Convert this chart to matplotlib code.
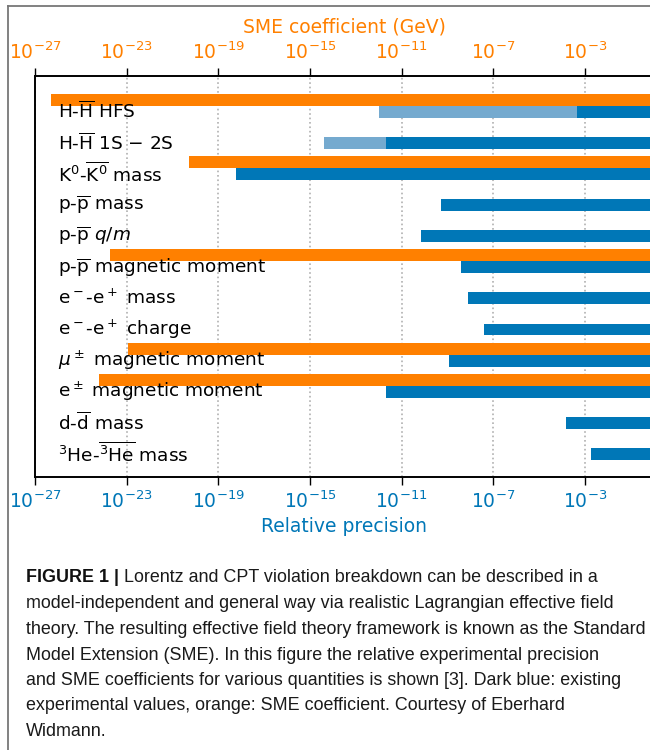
import matplotlib
matplotlib.use("Agg")
import matplotlib.pyplot as plt
import numpy as np
from matplotlib.lines import Line2D
from matplotlib.ticker import FixedLocator, NullLocator, LogFormatterSciNotation

# ---------------- data ----------------
labels = [
    r"H-$\overline{\mathrm{H}}$ HFS",
    r"H-$\overline{\mathrm{H}}$ 1S $-$ 2S",
    r"$\mathrm{K}^0$-$\overline{\mathrm{K}^0}$ mass",
    r"p-$\overline{\mathrm{p}}$ mass",
    r"p-$\overline{\mathrm{p}}$ $q/m$",
    r"p-$\overline{\mathrm{p}}$ magnetic moment",
    r"$\mathrm{e}^-$-$\mathrm{e}^+$ mass",
    r"$\mathrm{e}^-$-$\mathrm{e}^+$ charge",
    r"$\mu^\pm$ magnetic moment",
    r"$\mathrm{e}^\pm$ magnetic moment",
    r"d-$\overline{\mathrm{d}}$ mass",
    r"$^3$He-$\overline{^3\mathrm{He}}$ mass",
]
# existing relative precision (dark blue)
existing = [4.5e-4, 2.0e-12, 5.9e-19, 5.1e-10, 6.9e-11, 3.9e-9,
            7.8e-9, 3.9e-8, 1.1e-9, 2.0e-12, 1.5e-4, 1.8e-3]
# projected precision (light blue), None where absent
projected = [1.0e-12, 4.2e-15, None, None, None, None,
             None, None, None, None, None, None]
# SME coefficient in GeV (orange), None where absent
sme = [4.8e-27, None, 5.2e-21, None, None, 1.9e-24,
       None, None, 1.1e-23, 6.2e-25, None, None]
upper = 1.0
tick_values = [1e-27, 1e-23, 1e-19, 1e-15, 1e-11, 1e-7, 1e-3]

caption_lines = [
    "model-independent and general way via realistic Lagrangian effective field",
    "theory. The resulting effective field theory framework is known as the Standard",
    "Model Extension (SME). In this figure the relative experimental precision",
    "and SME coefficients for various quantities is shown [3]. Dark blue: existing",
    "experimental values, orange: SME coefficient. Courtesy of Eberhard",
    "Widmann.",
]
caption_head_bold = "FIGURE 1 | "
caption_head = "Lorentz and CPT violation breakdown can be described in a"

# ---------------- style ----------------
BLUE = "#0077b7"
LIGHT = "#75aacf"
ORANGE = "#ff8000"
W, H = 650, 750
fig = plt.figure(figsize=(6.5, 7.5), dpi=100)

x0_px, top_px, bot_px = 35, 76, 477
px_per_dec = 22.92
ndec = np.log10(upper) - np.log10(tick_values[0])
ax = fig.add_axes([x0_px / W, 1 - bot_px / H, ndec * px_per_dec / W, (bot_px - top_px) / H])

bh = 0.385
for i in range(len(labels)):
    e = existing[i]
    ax.barh(i, upper - e, left=e, height=bh, color=BLUE, zorder=2)
    if projected[i] is not None:
        p = projected[i]
        ax.barh(i, e - p, left=p, height=bh, color=LIGHT, zorder=2)
    if sme[i] is not None:
        s = sme[i]
        ax.barh(i - bh, upper - s, left=s, height=bh, color=ORANGE, zorder=2)

ax.set_xscale("log")
ax.set_xlim(tick_values[0], upper)
ax.set_ylim(11.74, -1.147)
ax.set_yticks([])
ax.xaxis.set_major_locator(FixedLocator(tick_values))
ax.xaxis.set_minor_locator(NullLocator())
ax.xaxis.set_major_formatter(LogFormatterSciNotation())
ax.tick_params(axis="x", direction="out", length=6, width=1, labelsize=13.5,
               labelcolor=BLUE, color="black")
ax.grid(axis="x", linestyle=":", color="#b0b0b0", linewidth=1.2, zorder=0)
ax.set_axisbelow(True)
ax.set_xlabel("Relative precision", color=BLUE, fontsize=13.5, labelpad=4)
for s in ["left", "bottom", "top"]:
    ax.spines[s].set_color("black")
    ax.spines[s].set_linewidth(1.2)

for i, lab in enumerate(labels):
    ax.text(23.5 / (ndec * px_per_dec), i, lab, transform=ax.get_yaxis_transform(),
            va="center", ha="left", fontsize=13.3, color="black", zorder=5)

ax2 = ax.twiny()
ax2.set_xscale("log")
ax2.set_xlim(ax.get_xlim())
ax2.xaxis.set_major_locator(FixedLocator(tick_values))
ax2.xaxis.set_minor_locator(NullLocator())
ax2.xaxis.set_major_formatter(LogFormatterSciNotation())
ax2.tick_params(axis="x", direction="out", length=6, width=1, labelsize=13.5,
                labelcolor=ORANGE, color="black")
ax2.set_xlabel("SME coefficient (GeV)", color=ORANGE, fontsize=13.5, labelpad=6)
for s in ax2.spines.values():
    s.set_linewidth(1.2)

# ---------------- frame ----------------
fx, fy = 8 / W, 1 - 6 / H
fig.add_artist(Line2D([fx, fx], [0, fy], transform=fig.transFigure, color="#777777", lw=1.3))
fig.add_artist(Line2D([fx, 1], [fy, fy], transform=fig.transFigure, color="#777777", lw=1.3))

# ---------------- caption ----------------
cap_font = "Liberation Sans"
cap_size = 12.85
x_cap = 26 / W
line_centers = [577, 603.5, 629.5, 655, 680.5, 706, 731.5]
t1 = fig.text(x_cap, 1 - line_centers[0] / H, caption_head_bold, fontsize=cap_size,
              fontweight="bold", family=cap_font, va="center", ha="left", color="#111111")
fig.canvas.draw()
bb = t1.get_window_extent()
fig.text(bb.x1 / W, 1 - line_centers[0] / H, caption_head, fontsize=cap_size,
         family=cap_font, va="center", ha="left", color="#1a1a1a")
for yc, line in zip(line_centers[1:], caption_lines):
    fig.text(x_cap, 1 - yc / H, line, fontsize=cap_size, family=cap_font,
             va="center", ha="left", color="#1a1a1a")

fig.savefig("out.png", dpi=100)
